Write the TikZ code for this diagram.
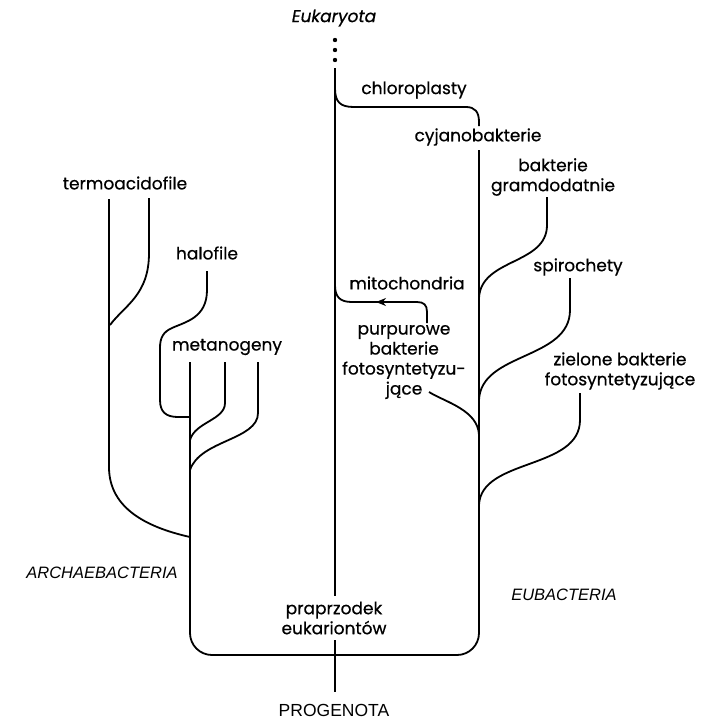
\documentclass[tikz,border=0pt]{standalone}
\usepackage{fontspec}
\setmainfont{Poppins}[FakeBold=0.6,UprightFeatures={FakeBold=0.6},ItalicFeatures={FakeBold=0.6}]
\newfontfamily\helv{Liberation Sans}
\usetikzlibrary{arrows.meta}

\begin{document}
\begin{tikzpicture}[x=1pt,y=-1pt,
  lbl/.style={font=\fontsize{17}{20}\selectfont, inner sep=0pt, align=center},
  grp/.style={font=\helv\itshape\fontsize{16.5}{19}\selectfont, inner sep=0pt},
  root/.style={font=\helv\fontsize{17.5}{20}\selectfont, inner sep=0pt},
  branch/.style={line width=1.8pt},
  tip/.style={-{Stealth[length=10pt,width=8pt]}}]
\useasboundingbox (0,0) rectangle (701,720);

% ---- labels ----
\node[lbl, font=\itshape\fontsize{17}{20}\selectfont] (euk) at (334,18) {Eukaryota};
\node[lbl] (chl) at (414,90) {chloroplasty};
\node[lbl] (cya) at (478,137) {cyjanobakterie};
\node[lbl] (gram) at (553,177) {bakterie\\gramdodatnie};
\node[lbl] (spi) at (578,267) {spirochety};
\node[lbl] (mit) at (407,283) {mitochondria};
\node[lbl] (pur) at (404,362) {purpurowe\\bakterie\\fotosyntetyzu-\\jące};
\node[lbl] (ziel) at (620,371) {zielone bakterie\\fotosyntetyzujące};
\node[lbl] (termo) at (125,183) {termoacidofile};
\node[lbl] (halo) at (207,253) {halofile};
\node[lbl] (meta) at (227,347) {metanogeny};
\node[lbl] (anc) at (334,618) {praprzodek\\eukariontów};
\node[grp] (arch) at (102,573) {ARCHAEBACTERIA};
\node[grp] (eub) at (564,595) {EUBACTERIA};
\node[root] (prog) at (334,710) {PROGENOTA};

% ---- junction points ----
\coordinate (stemtop) at (335,68);
\coordinate (stembot) at (335,596);
\coordinate (rootup) at (335,640);
\coordinate (rootdn) at (335,692);
\coordinate (archtop) at (190,362);
\coordinate (eubtop) at (479,150);

% ---- dotted continuation towards Eukaryota ----
\foreach \yy in {40,50,60} \fill (335,\yy) circle (2.2);

\begin{scope}[branch]
% central eukaryote stem
\draw (stemtop) -- (stembot);
\draw (rootup) -- (rootdn);

% common ancestor: archaebacteria and eubacteria stems
\draw[rounded corners=22] (archtop) -- (190,655) -- (479,655) -- (eubtop);

% chloroplasts from cyanobacteria
\draw (335,88) .. controls (335,102) and (340,107) .. (354,107) -- (466,107)
      .. controls (475,107) and (479,112) .. (479,122) -- (479,126);

% mitochondria from purple bacteria
\draw[tip] (427,323) -- (427,312) .. controls (427,305) and (424,302) .. (417,302) -- (376,302);
\draw (380,302) -- (352,302) .. controls (340,302) and (335,297) .. (335,285);

% eubacteria branches
\draw (547,197) -- (547,225) .. controls (547,265) and (481,258) .. (479,298);
\draw (570,278) -- (570,310) .. controls (570,360) and (481,352) .. (479,400);
\draw (580,393) -- (580,420) .. controls (580,470) and (481,458) .. (479,505);
\draw (429,392) .. controls (445,402) and (478,410) .. (479,435);

% archaebacteria branches
\draw (109,199) -- (109,467) .. controls (109,510) and (150,528) .. (190,537);
\draw (149,198) -- (149,253) .. controls (149,295) and (125,305) .. (110,325);
\draw (207,271) -- (207,290) .. controls (207,318) and (185,322) .. (172,328)
      .. controls (163,332) and (160,338) .. (160,348) -- (160,400)
      .. controls (160,412) and (166,417) .. (178,417) -- (190,417);
\draw (225,362) -- (225,403) .. controls (225,420) and (195,422) .. (190,440);
\draw (258,362) -- (258,413) .. controls (258,440) and (200,440) .. (190,470);
\end{scope}
\end{tikzpicture}
\end{document}
